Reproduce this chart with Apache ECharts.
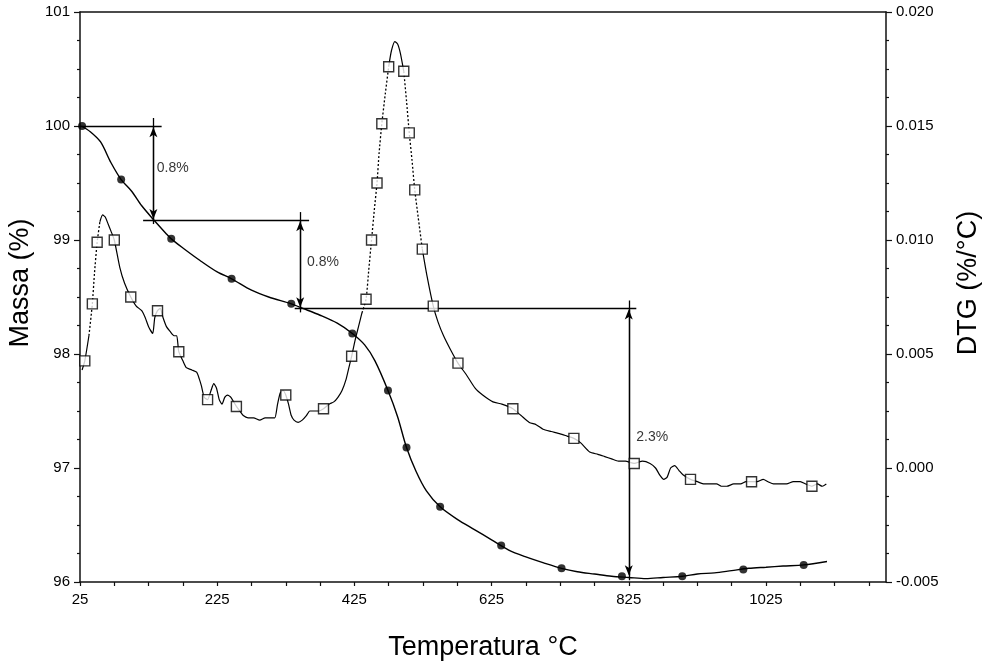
<!DOCTYPE html>
<html>
<head>
<meta charset="utf-8">
<script src="https://cdn.jsdelivr.net/npm/echarts@6/dist/echarts.min.js"></script>
<style>
html,body{margin:0;padding:0;background:#fff;}
#chart{width:985px;height:665px;}
</style>
</head>
<body>
<div id="chart"></div>
<script>
// ---- TG (mass %) curve ----
const tgT = [27,40,55,70,85,100,115,132,150,158,175,200,225,246,275,300,333,350,375,400,422,440,455,474,488,501,515,530,550,575,600,625,650,675,700,727,750,775,800,825,850,875,903,925,950,975,1000,1025,1050,1080,1114];
const tgM = [100.00,99.95,99.86,99.68,99.53,99.43,99.30,99.18,99.06,99.01,98.93,98.82,98.72,98.66,98.56,98.50,98.44,98.40,98.34,98.27,98.18,98.08,97.94,97.68,97.45,97.18,96.97,96.80,96.66,96.55,96.46,96.37,96.28,96.22,96.17,96.12,96.09,96.07,96.05,96.04,96.03,96.04,96.05,96.07,96.08,96.10,96.12,96.13,96.14,96.15,96.18];
const tgMarkT = [28,85,158,246,333,422,474,501,550,639,727,815,903,992,1080];
const tgMarkM = [100.00,99.53,99.01,98.66,98.44,98.18,97.68,97.18,96.66,96.32,96.12,96.05,96.05,96.11,96.15];

// ---- DTG (%/°C) curve ----
const dtgT = [28,32,38,43,46,50,54,58,62,66,70,75,83,90,99,107,115,120,125,131,134,138,142,146,151,156,162,166,169,175,180,188,195,199,202,206,211,216,220,224,228,232,236,240,245,253,258,263,270,278,287,295,303,309,313,317,321,325,329,333,337,343,349,355,360,366,373,380,388,395,401,407,413,417,421,426,431,436,442,446,450,454,458,461,465,470,475,479,484,488,492,497,501,505,509,513,518,524,531,540,547,555,565,576,588,601,612,627,640,656,668,680,690,700,712,725,735,745,755,768,780,790,800,810,820,833,845,856,864,870,876,881,886,892,898,904,915,925,935,945,953,960,968,978,988,996,1004,1012,1021,1028,1036,1045,1055,1065,1075,1083,1092,1100,1107,1113];
const dtgV = [0.0043,0.0047,0.0058,0.0072,0.0085,0.0099,0.0108,0.0111,0.0110,0.0107,0.0104,0.0100,0.0088,0.0081,0.0075,0.0071,0.0069,0.0066,0.0062,0.0059,0.0066,0.0069,0.0070,0.0066,0.0062,0.0060,0.0058,0.0058,0.0051,0.0047,0.0044,0.0043,0.0042,0.0039,0.0036,0.0031,0.0030,0.0034,0.0037,0.0035,0.0030,0.0028,0.0031,0.0032,0.0031,0.0027,0.0025,0.0023,0.0022,0.0022,0.0021,0.0022,0.0022,0.0022,0.0028,0.0033,0.0034,0.0032,0.0028,0.0023,0.0021,0.0020,0.0021,0.0023,0.0025,0.0025,0.0025,0.0026,0.0028,0.0029,0.0031,0.0034,0.0039,0.0044,0.0049,0.0056,0.0062,0.0068,0.0074,0.0087,0.0100,0.0113,0.0125,0.0138,0.0151,0.0164,0.0176,0.0183,0.0187,0.0186,0.0182,0.0174,0.0161,0.0147,0.0135,0.0122,0.0110,0.0096,0.0084,0.0071,0.0064,0.0058,0.0052,0.0046,0.0041,0.0035,0.0032,0.0029,0.0028,0.0026,0.0023,0.0020,0.0019,0.0017,0.0016,0.0015,0.0014,0.0013,0.0011,0.0007,0.0006,0.0005,0.0004,0.0003,0.0003,0.0002,0.0003,0.0002,0.0000,-0.0003,-0.0005,-0.0004,0.0000,0.0001,-0.0001,-0.0003,-0.0005,-0.0006,-0.0007,-0.0007,-0.0007,-0.0008,-0.0008,-0.0007,-0.0007,-0.0006,-0.0006,-0.0006,-0.0005,-0.0006,-0.0007,-0.0007,-0.0007,-0.0006,-0.0006,-0.0007,-0.0008,-0.0007,-0.0008,-0.0007];
const dtgMarkT = [32,43,50,75,99,138,169,211,253,325,380,421,442,450,458,465,475,497,505,513,524,540,576,656,745,833,915,1004,1092];
const dtgMarkV = [0.0047,0.0072,0.0099,0.0100,0.0075,0.0069,0.0051,0.0030,0.0027,0.0032,0.0026,0.0049,0.0074,0.0100,0.0125,0.0151,0.0176,0.0174,0.0147,0.0122,0.0096,0.0071,0.0046,0.0026,0.0013,0.0002,-0.0005,-0.0006,-0.0008];
// temperature ranges where the DTG trace is drawn dotted
const dottedRanges = [[38,54],[436,475],[497,524]];

// ---- axis ticks ----
const xTickLabels = [25,225,425,625,825,1025];
const massTicks = [96,97,98,99,100,101];
const dtgTicks = [-0.005,0.000,0.005,0.010,0.015,0.020];

// ---- mass-loss annotations ----
const stepHorizT0 = [25,117,338];
const stepHorizT1 = [144,359,836];
const stepHorizM  = [100.00,99.175,98.40];
const stepArrowT  = [132,346,825];
const stepArrowTop = [100.00,99.175,98.40];
const stepArrowBot = [99.175,98.40,96.05];
const stepLabels  = ['0.8%','0.8%','2.3%'];
const stepLabelT  = [137,356,836];
const stepLabelM  = [99.63,98.81,97.27];

const FONT = 'Liberation Sans, Arial, sans-serif';
const INK = '#111';

function inDotted(t){ return dottedRanges.some(r => t > r[0] && t < r[1]); }
function inDottedClosed(t){ return dottedRanges.some(r => t >= r[0] && t <= r[1]); }

const tgData = tgT.map((t,i)=>[t,tgM[i]]);
const dtgSolid = dtgT.map((t,i)=>[t, inDotted(t) ? null : dtgV[i]]);
const dtgDotted = dtgT.map((t,i)=>[t, inDottedClosed(t) ? dtgV[i] : null]);

const markLines = [];
for (let i=0;i<stepHorizM.length;i++){
  markLines.push([{coord:[stepHorizT0[i],stepHorizM[i]],symbol:'none'},{coord:[stepHorizT1[i],stepHorizM[i]],symbol:'none'}]);
  markLines.push([{coord:[stepArrowT[i],stepArrowTop[i]+0.07],symbol:'none'},{coord:[stepArrowT[i],stepArrowBot[i]-0.035],symbol:'none'}]);
  markLines.push([{coord:[stepArrowT[i],stepArrowTop[i]-0.01],symbol:'arrow'},{coord:[stepArrowT[i],stepArrowBot[i]+0.01],symbol:'arrow'}]);
}

const axisLineStyle = {color:INK,width:1.5};
const labelStyle = {color:'#000',fontSize:15,fontFamily:FONT};
const nameStyle = {fontSize:27,fontFamily:FONT,color:'#000'};

const chart = echarts.init(document.getElementById('chart'),null,{renderer:'canvas'});
chart.setOption({
  animation:false,
  backgroundColor:'#fff',
  grid:{left:80,right:99,top:12,bottom:83,containLabel:false,outerBoundsMode:'none'},
  xAxis:[{
    type:'value',min:25,max:1200,interval:50,position:'bottom',
    name:'Temperatura °C',nameLocation:'middle',nameGap:52,
    nameTextStyle:nameStyle,
    axisLine:{show:true,onZero:false,lineStyle:axisLineStyle},
    axisTick:{show:true,length:4,lineStyle:{color:INK,width:1.2}},
    axisLabel:Object.assign({margin:10,showMaxLabel:false,
      formatter:v=> xTickLabels.indexOf(Math.round(v))>=0 ? String(Math.round(v)) : ''},labelStyle),
    splitLine:{show:false}
  },{
    type:'value',min:25,max:1200,position:'top',
    axisLine:{show:true,onZero:false,lineStyle:axisLineStyle},
    axisTick:{show:false},axisLabel:{show:false},splitLine:{show:false}
  }],
  yAxis:[{
    type:'value',min:96,max:101,interval:1,position:'left',
    name:'Massa (%)',nameLocation:'middle',nameGap:42,nameRotate:90,
    nameTextStyle:Object.assign({padding:[0,0,0,28]},nameStyle),
    axisLine:{show:true,onZero:false,lineStyle:axisLineStyle},
    axisTick:{show:true,length:6,lineStyle:{color:INK,width:1.2}},
    minorTick:{show:true,splitNumber:4,length:3,lineStyle:{color:INK,width:1.2}},
    axisLabel:Object.assign({margin:10,
      formatter:v=> massTicks.indexOf(Math.round(v))>=0 ? String(Math.round(v)) : ''},labelStyle),
    splitLine:{show:false},minorSplitLine:{show:false}
  },{
    type:'value',min:-0.005,max:0.02,interval:0.005,position:'right',
    name:'DTG (%/°C)',nameLocation:'middle',nameGap:69,nameRotate:90,
    nameTextStyle:Object.assign({padding:[0,0,0,28]},nameStyle),
    axisLine:{show:true,onZero:false,lineStyle:axisLineStyle},
    axisTick:{show:true,length:6,lineStyle:{color:INK,width:1.2}},
    minorTick:{show:true,splitNumber:4,length:3,lineStyle:{color:INK,width:1.2}},
    axisLabel:Object.assign({margin:10,
      formatter:v=>{ const s=(Math.round(v*1000)/1000).toFixed(3); return s==='-0.000'?'0.000':s; }},labelStyle),
    splitLine:{show:false},minorSplitLine:{show:false}
  }],
  series:[
    {
      name:'TG',type:'line',xAxisIndex:0,yAxisIndex:0,data:tgData,smooth:0.3,
      showSymbol:false,silent:true,z:3,
      lineStyle:{color:'#000',width:1.4},
      markLine:{silent:true,animation:false,symbolSize:[6,10],
        lineStyle:{color:'#000',width:1.3,type:'solid'},
        label:{show:false},emphasis:{disabled:true},
        data:markLines}
    },
    {
      name:'TG marks',type:'scatter',xAxisIndex:0,yAxisIndex:0,
      data:tgMarkT.map((t,i)=>[t,tgMarkM[i]]),symbol:'circle',symbolSize:8,silent:true,z:5,
      itemStyle:{color:'#000'}
    },
    {
      name:'DTG',type:'line',xAxisIndex:0,yAxisIndex:1,data:dtgSolid,smooth:0.2,
      showSymbol:false,silent:true,z:3,connectNulls:false,
      lineStyle:{color:'#000',width:1.2}
    },
    {
      name:'DTG dotted',type:'line',xAxisIndex:0,yAxisIndex:1,data:dtgDotted,smooth:0.2,
      showSymbol:false,silent:true,z:3,connectNulls:false,
      lineStyle:{color:'#000',width:1.3,type:[2,2]}
    },
    {
      name:'DTG marks',type:'scatter',xAxisIndex:0,yAxisIndex:1,
      data:dtgMarkT.map((t,i)=>[t,dtgMarkV[i]]),symbol:'rect',symbolSize:10,silent:true,z:6,
      itemStyle:{color:'#fff',borderColor:'#000',borderWidth:1.4}
    },
    {
      name:'labels',type:'scatter',xAxisIndex:0,yAxisIndex:0,symbolSize:0,silent:true,z:7,
      data:stepLabelT.map((t,i)=>({value:[t,stepLabelM[i]],name:stepLabels[i]})),
      label:{show:true,position:'right',distance:0,formatter:p=>p.name,
        fontSize:14,fontFamily:FONT,color:'#000'}
    }
  ]
});
</script>
</body>
</html>
